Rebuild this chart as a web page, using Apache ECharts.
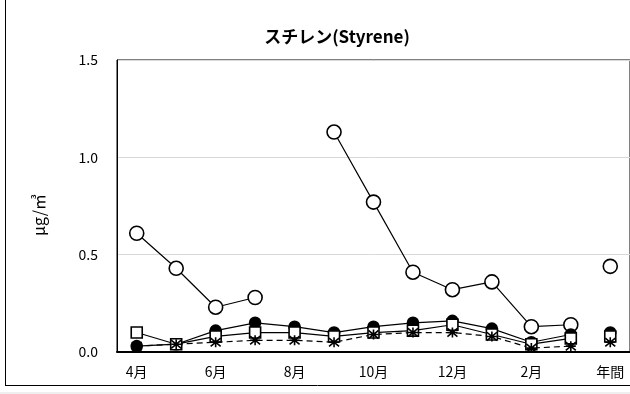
<!DOCTYPE html>
<html><head><meta charset="utf-8">
<script src="https://cdn.jsdelivr.net/npm/echarts@6/dist/echarts.min.js"></script>
<style>html,body{margin:0;padding:0;background:#fff}#c{width:630px;height:394px}</style>
</head><body><div id="c"></div>
<script>
const categories = ['4月','5月','6月','7月','8月','9月','10月','11月','12月','1月','2月','3月','年間'];
const yTicks = [0, 0.5, 1.0, 1.5];
// monthly values (4月〜3月)
const seriesOpenCircle   = [0.61,0.43,0.23,0.28,null,1.13,0.77,0.41,0.32,0.36,0.13,0.14];
const seriesFilledCircle = [0.03,0.04,0.11,0.15,0.13,0.10,0.13,0.15,0.16,0.12,0.05,0.09];
const seriesSquare       = [0.10,0.04,0.08,0.10,0.10,0.08,0.10,0.11,0.14,0.09,0.04,0.07];
const seriesAsterisk     = [0.03,0.04,0.05,0.06,0.06,0.05,0.09,0.10,0.10,0.08,0.02,0.03];
// annual values (年間)
const annualOpenCircle = 0.44;
const annualFilledCircle = 0.10;
const annualSquare = 0.08;
const annualAsterisk = 0.05;

const FONT = '"Noto Sans CJK JP", "Noto Sans", sans-serif';
const asteriskPath = 'path://M0,0 L10,10 M10,0 L0,10 M5,-1 L5,11 M0,5 L10,5';
const withAnnual = (v) => categories.map((c,i)=> i===categories.length-1 ? v : '-');
const monthly = (arr) => arr.map(v => v===null ? '-' : v);

function mk(name, data, annual, symbol, size, fill, dashed) {
  const style = {color: fill, borderColor:'#000', borderWidth: 1.6};
  return [
    {name, type:'line', data: monthly(data), symbol, symbolSize: size, connectNulls:false,
     lineStyle:{color:'#000', width:1.2, type: dashed ? [6,4] : 'solid'},
     itemStyle: style, z: 3},
    {name: name+'年間', type:'line', data: withAnnual(annual), symbol, symbolSize: size,
     lineStyle:{width:0}, itemStyle: style, z: 3}
  ];
}

const chart = echarts.init(document.getElementById('c'), null, {renderer:'canvas'});
chart.setOption({
  animation:false,
  backgroundColor:'#fff',
  title:{text:'スチレン(Styrene)', left:332, top:23, textAlign:'center',
    textStyle:{fontFamily:FONT, fontSize:17, fontWeight:'bold', color:'#000'}},
  grid:{left:117, top:60, width:515, bottom:42, show:true, borderColor:'#000', borderWidth:1},
  xAxis:{type:'category', data:categories, boundaryGap:true,
    axisLine:{lineStyle:{color:'#000', width:2}}, axisTick:{show:false},
    axisLabel:{interval:1, color:'#000', fontFamily:FONT, fontSize:14, margin:13}},
  yAxis:{type:'value', min:yTicks[0], max:yTicks[yTicks.length-1], interval:0.5,
    name:'μg/㎥', nameLocation:'middle', nameGap:70, nameRotate:90,
    nameTextStyle:{fontFamily:FONT, fontSize:16, color:'#000', padding:[0,18,0,0]},
    axisLine:{show:true, lineStyle:{color:'#000', width:1}}, axisTick:{show:false},
    splitLine:{lineStyle:{color:'#d9d9d9', width:1}},
    axisLabel:{color:'#000', fontFamily:FONT, fontSize:14, margin:19, formatter:(v)=>v.toFixed(1)}},
  graphic:[
    {type:'line', shape:{x1:5.5,y1:0,x2:5.5,y2:385.5}, style:{stroke:'#000', lineWidth:1}},
    {type:'line', shape:{x1:5,y1:385.5,x2:630,y2:385.5}, style:{stroke:'#000', lineWidth:1}},
    {type:'line', shape:{x1:0,y1:393,x2:630,y2:393}, style:{stroke:'#e0e0e0', lineWidth:1}}
  ],
  series:[
    ...mk('A', seriesOpenCircle, annualOpenCircle, 'circle', 14, '#fff', false),
    ...mk('B', seriesFilledCircle, annualFilledCircle, 'circle', 11, '#000', false),
    ...mk('C', seriesSquare, annualSquare, 'rect', 11, '#fff', false),
    ...mk('D', seriesAsterisk, annualAsterisk, asteriskPath, 10, 'none', true)
  ]
});
</script></body></html>
